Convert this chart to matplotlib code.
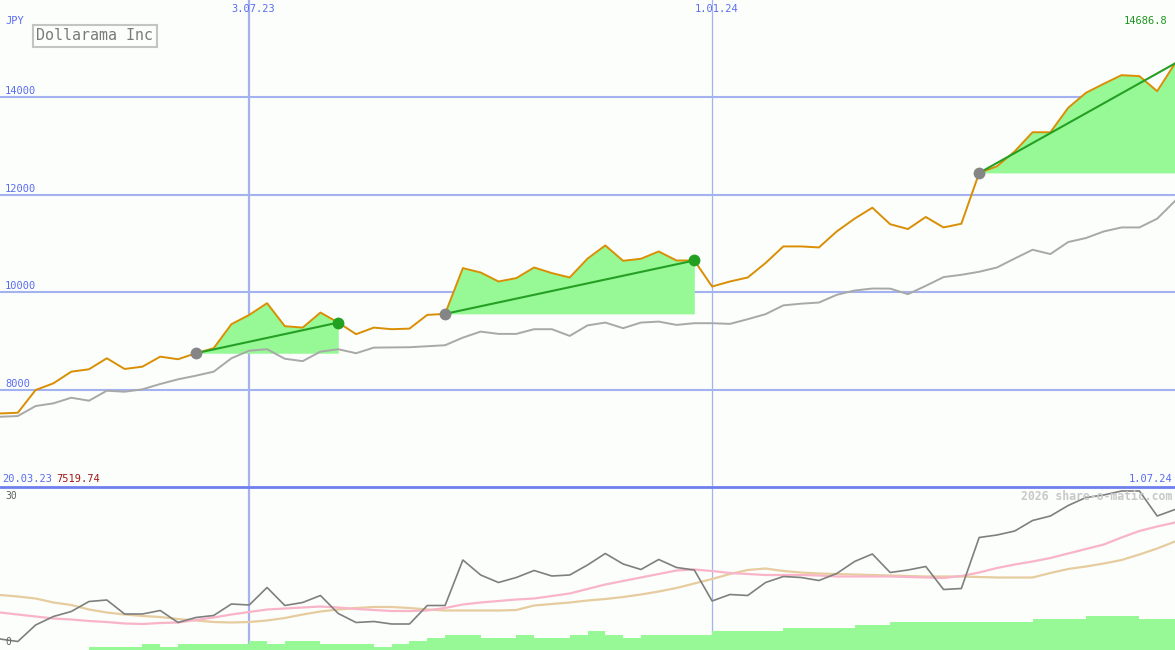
import matplotlib
matplotlib.use("Agg")
import matplotlib.pyplot as plt
from matplotlib.lines import Line2D
import numpy as np

W, H = 1175, 650

# ---------------- data ----------------
price = [7520, 7534, 8000, 8137, 8375, 8425, 8650, 8431, 8478, 8683,
         8630, 8753, 8855, 9348, 9538, 9778, 9307, 9278, 9586, 9381,
         9143, 9278, 9245, 9257, 9538, 9559, 10496, 10406, 10222, 10291,
         10509, 10394, 10304, 10690, 10960, 10646, 10687, 10837, 10652, 10652,
         10119, 10222, 10304, 10600, 10940, 10940, 10919, 11247, 11508, 11733,
         11395, 11296, 11543, 11329, 11405, 12445, 12581, 12888, 13278, 13278,
         13778, 14086, 14271, 14447, 14427, 14119, 14686.8]

benchmark = [7452, 7467, 7672, 7727, 7842, 7781, 7986, 7965, 8014, 8123,
             8219, 8293, 8375, 8650, 8806, 8835, 8640, 8591, 8786, 8835,
             8753, 8868, 8872, 8876, 8896, 8917, 9073, 9196, 9149, 9149,
             9245, 9245, 9108, 9323, 9381, 9266, 9381, 9401, 9333, 9368,
             9368, 9354, 9450, 9553, 9733, 9768, 9791, 9949, 10037, 10078,
             10076, 9963, 10133, 10312, 10359, 10421, 10509, 10693, 10872, 10784,
             11030, 11112, 11247, 11329, 11329, 11508, 11871]

indicator = [0.6, 0.1, 3.4, 5.1, 6.1, 8.1, 8.4, 5.6, 5.6, 6.3,
             3.9, 4.9, 5.3, 7.6, 7.4, 10.9, 7.3, 7.9, 9.3, 5.7,
             3.9, 4.1, 3.6, 3.6, 7.3, 7.3, 16.4, 13.4, 11.9, 12.9,
             14.3, 13.2, 13.4, 15.4, 17.7, 15.6, 14.5, 16.5, 14.9, 14.4,
             8.2, 9.5, 9.3, 11.9, 13.1, 12.9, 12.3, 13.7, 16.1, 17.6,
             13.9, 14.4, 15.1, 10.5, 10.7, 20.9, 21.4, 22.2, 24.3, 25.2,
             27.3, 28.9, 29.4, 30.2, 30.2, 25.2, 26.5]

ma_fast = [5.9, 5.5, 5.1, 4.7, 4.5, 4.2, 4.0, 3.7, 3.6, 3.8,
           3.9, 4.4, 4.9, 5.5, 6.0, 6.5, 6.7, 6.9, 7.1, 6.9,
           6.6, 6.4, 6.2, 6.2, 6.3, 6.8, 7.5, 7.9, 8.2, 8.5,
           8.7, 9.2, 9.7, 10.6, 11.5, 12.2, 12.9, 13.6, 14.3, 14.5,
           14.2, 13.8, 13.6, 13.4, 13.4, 13.4, 13.3, 13.1, 13.1, 13.1,
           13.1, 13.0, 12.9, 12.8, 13.2, 13.9, 14.8, 15.5, 16.1, 16.8,
           17.7, 18.6, 19.5, 20.9, 22.2, 23.1, 23.9]

ma_slow = [9.4, 9.1, 8.7, 7.9, 7.4, 6.5, 5.9, 5.5, 5.2, 5.0,
           4.6, 4.3, 4.0, 3.9, 4.0, 4.3, 4.8, 5.5, 6.1, 6.5,
           6.8, 7.0, 7.0, 6.8, 6.5, 6.3, 6.3, 6.3, 6.3, 6.4,
           7.3, 7.6, 7.9, 8.3, 8.6, 9.0, 9.5, 10.1, 10.8, 11.7,
           12.6, 13.6, 14.4, 14.7, 14.2, 13.9, 13.7, 13.6, 13.5, 13.4,
           13.3, 13.2, 13.1, 13.1, 13.1, 13.0, 12.9, 12.9, 12.9, 13.8,
           14.6, 15.1, 15.7, 16.4, 17.5, 18.7, 20.1]

volume_bars = [0, 0, 0, 0, 0, 0.54, 0.54, 0.54, 1.2, 0.54,
               1.2, 1.2, 1.2, 1.2, 1.8, 1.2, 1.8, 1.8, 1.2, 1.2,
               1.2, 0.54, 1.2, 1.8, 2.4, 3.0, 3.0, 2.4, 2.4, 3.0,
               2.4, 2.4, 3.0, 3.8, 3.0, 2.4, 3.0, 3.0, 3.0, 3.0,
               3.8, 3.8, 3.8, 3.8, 4.4, 4.4, 4.4, 4.4, 5.0, 5.0,
               5.6, 5.6, 5.6, 5.6, 5.6, 5.6, 5.6, 5.6, 6.2, 6.2,
               6.2, 6.8, 6.8, 6.8, 6.2, 6.2]

trend_starts = [11, 25, 55]
trend_ends = [19, 39, 66]

price_ticks = [8000, 10000, 12000, 14000]
date_positions = [14, 40]
date_labels = ["3.07.23", "1.01.24"]
first_date, first_value = "20.03.23", "7519.74"
last_date = "1.07.24"
last_value = "14686.8"
title = "Dollarama Inc"
currency = "JPY"
ind_labels = ["30", "0"]

# ---------------- style ----------------
BG = "#fbfefb"
GRID = "#a4b3f0"
BLUE_TXT = "#5a6cf0"
ORANGE = "#d98e04"
GRAYLINE = "#a8a8a8"
FILL = "#96f996"
TREND = "#25a025"
MONO = "DejaVu Sans Mono"

fig = plt.figure(figsize=(W / 100, H / 100), dpi=100)
fig.patch.set_facecolor(BG)

split = 487
ax = fig.add_axes([0, (H - split) / H, 1, split / H])
ax2 = fig.add_axes([0, 0, 1, (H - split) / H])
for a in (ax, ax2):
    a.set_facecolor(BG)
    for s in a.spines.values():
        s.set_visible(False)
    a.set_xticks([])
    a.set_yticks([])

x = np.arange(len(price))
ax.set_xlim(0, len(price) - 1)
ax.set_ylim(6014, 15986)
ax2.set_xlim(0, len(price) - 1)
ax2.set_ylim(-1.6, 31.0)

# grid
for v in price_ticks:
    ax.axhline(v, color=GRID, lw=1.5, zorder=0)
vwidths = [1.6, 0.9]
for p, lw in zip(date_positions, vwidths):
    ax.axvline(p, color=GRID, lw=lw, zorder=0)
    ax2.axvline(p, color=GRID, lw=lw, zorder=0)

# green areas + trend lines
price_arr = np.array(price, dtype=float)
for s, e in zip(trend_starts, trend_ends):
    xs = x[s:e + 1]
    ax.fill_between(xs, price_arr[s], price_arr[s:e + 1], color=FILL, lw=0, zorder=1)

ax.plot(x, benchmark, color=GRAYLINE, lw=1.4, zorder=2)
ax.plot(x, price, color=ORANGE, lw=1.4, zorder=3)

for s, e in zip(trend_starts, trend_ends):
    ax.plot([x[s], x[e]], [price[s], price[e]], color=TREND, lw=1.5, zorder=4)
    ax.plot(x[s], price[s], "o", ms=8.5, color="#858585", mec="none", zorder=5)
    if e < len(price) - 1:
        ax.plot(x[e], price[e], "o", ms=8.5, color="#22a022", mec="none", zorder=5)

# bottom panel
ax2.bar(np.arange(len(volume_bars)), volume_bars, width=1.0, align="edge",
        bottom=-1.6, color=FILL, lw=0, zorder=1)
ax2.plot(x, ma_slow, color="#e6cc9e", lw=1.6, zorder=2)
ax2.plot(x, ma_fast, color="#f9b4c8", lw=1.6, zorder=3)
ax2.plot(x, indicator, color="#7f7f7f", lw=1.2, zorder=4)

fig.add_artist(Line2D([0, 1], [(H - split) / H] * 2, transform=fig.transFigure,
                      color="#6e80ee", lw=2.0, zorder=10))


def ptext(px, py, s, **kw):
    kw.setdefault("family", MONO)
    kw.setdefault("fontsize", 7.5)
    fig.text(px / W, 1 - py / H, s, **kw)


ptext(5, 21, currency, color=BLUE_TXT, va="center", ha="left")
ax_pix = 293.0 / 6000.0
for v in price_ticks:
    ypix = 390 - (v - 8000) * ax_pix
    ptext(5, ypix - 6, str(v), color=BLUE_TXT, va="center", ha="left")

date_px = [249, 713]
for xp, lab in zip(date_px, date_labels):
    ptext(xp + 4, 9, lab, color=BLUE_TXT, va="center", ha="center")

ptext(1167, 21, last_value, color="#1e961e", va="center", ha="right")

ptext(95, 36, title, fontsize=10.8, color="#7a7a7a", va="center", ha="center",
      bbox=dict(boxstyle="square,pad=0.25", fc="none", ec="#c4c4c4", lw=1.5))

ptext(2, 479, first_date, color=BLUE_TXT, va="center", ha="left")
ptext(56, 479, first_value, color="#a01818", va="center", ha="left")
ptext(1172, 479, last_date, color=BLUE_TXT, va="center", ha="right")
ptext(1172, 496, "2026 share-o-matic.com", fontsize=8.3, weight="bold",
      color="#c8c8c8", va="center", ha="right")
ptext(5, 496, ind_labels[0], fontsize=7, color="#606060", va="center", ha="left")
ptext(5, 642, ind_labels[1], fontsize=7, color="#606060", va="center", ha="left")

fig.savefig("out.png", dpi=100, facecolor=BG)
